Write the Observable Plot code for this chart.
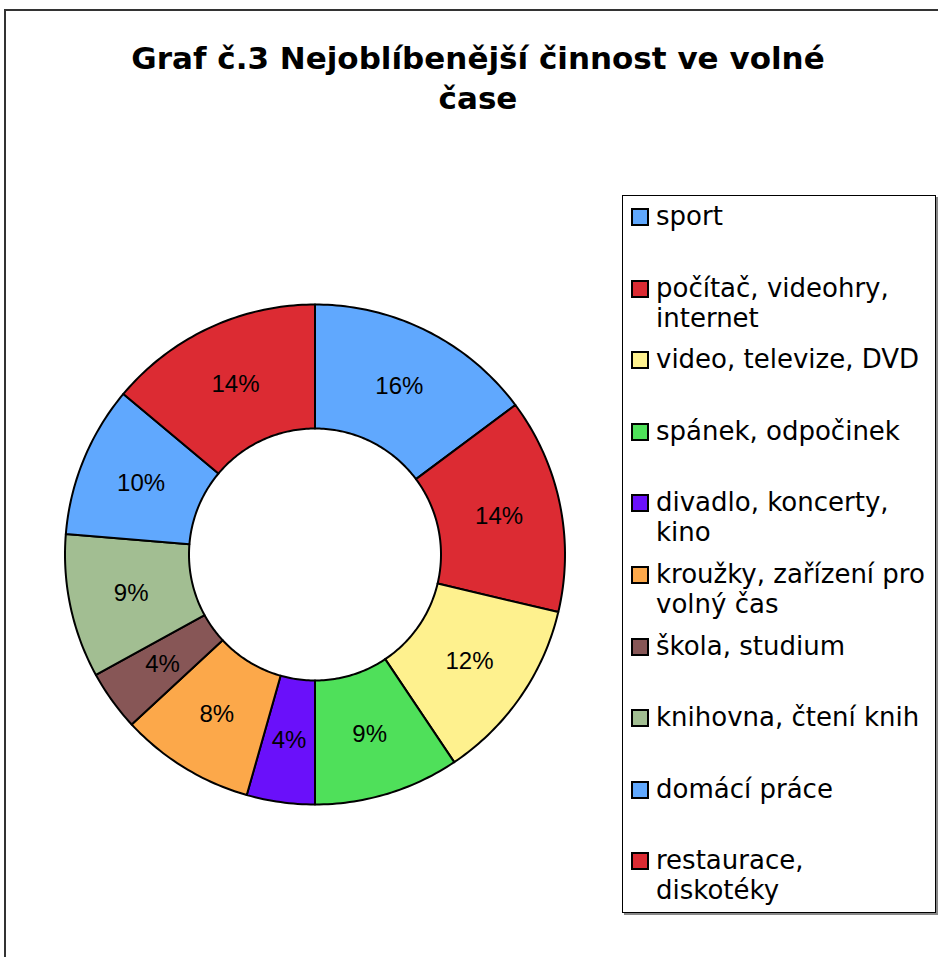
<!DOCTYPE html>
<html><head><meta charset="utf-8">
<script src="https://cdn.jsdelivr.net/npm/d3@7"></script>
<script src="https://cdn.jsdelivr.net/npm/@observablehq/plot@0.6"></script>
<style>
html,body{margin:0;padding:0;background:#fff;}
#page{position:relative;width:938px;height:957px;overflow:hidden;background:#fff;}
#chart{position:absolute;left:0;top:0;}
#frame{position:absolute;left:4px;top:9px;width:1000px;height:1000px;border-left:2px solid #333;border-top:2px solid #333;}
#title{position:absolute;left:28px;width:900px;top:38px;text-align:center;font-family:"DejaVu Sans";font-weight:bold;font-size:31px;line-height:40px;color:#000;}
#legend{position:absolute;left:622px;top:195px;width:312px;height:716px;border:1px solid #000;box-shadow:2px 2px 0 #888;background:#fff;}
.sw{position:absolute;left:8px;width:14px;height:14px;border:2px solid #000;}
.lt{position:absolute;left:33px;font-family:"DejaVu Sans";font-size:26px;line-height:30px;white-space:pre;color:#000;}
</style>
</head><body>
<div id="page">
  <div id="chart"></div>
  <div id="frame"></div>
  <div id="title">Graf č.3 Nejoblíbenější činnost ve volné<br>čase</div>
  <div id="legend"></div>
</div>
<script>
const categories = ["sport", "počítač, videohry,\ninternet", "video, televize, DVD", "spánek, odpočinek",
  "divadlo, koncerty,\nkino", "kroužky, zařízení pro\nvolný čas", "škola, studium",
  "knihovna, čtení knih", "domácí práce", "restaurace,\ndiskotéky"];
const shares = [14.8, 13.9, 11.9, 9.4, 4.4, 8.7, 3.9, 9.3, 9.8, 13.9];
const pctLabels = ["16%", "14%", "12%", "9%", "4%", "8%", "4%", "9%", "10%", "14%"];
const colors = ["#60a8fe", "#dc2b33", "#fef18e", "#4fe05a", "#6a10fa", "#fca84a", "#875656", "#a2be92", "#60a8fe", "#dc2b33"];

const innerR = 0.504, outerR = 1, labelR = 0.752;
const arcs = d3.pie().sort(null).value(d => d)(shares);
const pts = [];
const labs = [];
arcs.forEach((a, i) => {
  const n = Math.max(8, Math.ceil((a.endAngle - a.startAngle) * 180 / Math.PI));
  for (let k = 0; k <= n; k++) {
    const t = a.startAngle + (a.endAngle - a.startAngle) * k / n;
    pts.push({i, cat: categories[i], x: outerR * Math.sin(t), y: outerR * Math.cos(t)});
  }
  for (let k = n; k >= 0; k--) {
    const t = a.startAngle + (a.endAngle - a.startAngle) * k / n;
    pts.push({i, cat: categories[i], x: innerR * Math.sin(t), y: innerR * Math.cos(t)});
  }
  const m = (a.startAngle + a.endAngle) / 2;
  labs.push({x: labelR * Math.sin(m), y: labelR * Math.cos(m), label: pctLabels[i]});
});

const chart = Plot.plot({
  width: 938, height: 957,
  margin: 0,
  style: {background: "transparent"},
  x: {domain: [-1, 1], range: [64.5, 564.5], axis: null},
  y: {domain: [-1, 1], range: [804, 304], axis: null},
  color: {domain: categories, range: colors},
  marks: [
    Plot.line(pts, {x: "x", y: "y", z: "i", fill: "cat", stroke: "#000", strokeWidth: 2, curve: "linear-closed", strokeLinejoin: "round"}),
    Plot.text(labs, {x: "x", y: "y", text: "label", fontSize: 24, fontFamily: "Liberation Sans", fill: "#000"})
  ]
});
document.getElementById("chart").appendChild(chart);

const legend = document.getElementById("legend");
categories.forEach((c, i) => {
  const top = i * 71.6;
  const sw = document.createElement("div");
  sw.className = "sw";
  sw.style.top = (12 + top) + "px";
  sw.style.background = colors[i];
  legend.appendChild(sw);
  const t = document.createElement("div");
  t.className = "lt";
  t.style.top = (5 + top) + "px";
  t.textContent = c;
  legend.appendChild(t);
});
</script>
</body></html>
